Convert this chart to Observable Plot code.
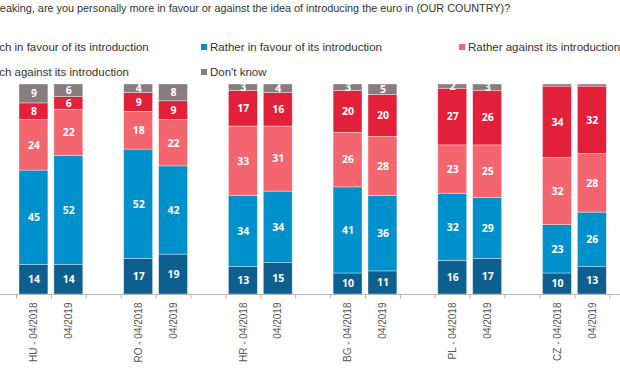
<!DOCTYPE html>
<html><head><meta charset="utf-8">
<script src="https://cdn.jsdelivr.net/npm/d3@7"></script>
<script src="https://cdn.jsdelivr.net/npm/@observablehq/plot@0.6"></script>
<style>
html,body{margin:0;padding:0;background:#fff;overflow:hidden;width:620px;height:380px;}
#wrap{position:relative;width:620px;height:380px;overflow:hidden;font-family:"Liberation Sans",Arial,sans-serif;color:#333;}
#title{position:absolute;left:-61px;top:2px;font-size:10.85px;white-space:nowrap;}
.leg{position:absolute;font-size:11.5px;white-space:nowrap;display:flex;align-items:center;height:14px;}
.sw{width:6px;height:6px;margin-right:3px;flex:none;}
#chart{position:absolute;left:0;top:0;}
</style></head>
<body><div id="wrap">
<div id="title">Generally speaking, are you personally more in favour or against the idea of introducing the euro in (OUR COUNTRY)?</div>
<div id="legend"></div>
<div id="chart"></div>
</div>
<script>
const groups = ["HU","RO","HR","BG","PL","CZ"];
const waves = ["04/2018","04/2019"];
const categories = [
  "Very much in favour of its introduction",
  "Rather in favour of its introduction",
  "Rather against its introduction",
  "Very much against its introduction",
  "Don't know"
];
const colors = ["#0d5f8f","#0090cb","#f4666f","#e3203a","#887c7f"];
// values per bar, order: HU18, HU19, RO18, RO19, HR18, HR19, BG18, BG19, PL18, PL19, CZ18, CZ19
const veryFavour    = [14,14,17,19,13,15,10,11,16,17,10,13];
const ratherFavour  = [45,52,52,42,34,34,41,36,32,29,23,26];
const ratherAgainst = [24,22,18,22,33,31,26,28,23,25,32,28];
const veryAgainst   = [8,6,9,9,17,16,20,20,27,26,34,32];
const dontKnow      = [9,6,4,8,3,4,3,5,2,3,1,1];
const series = [veryFavour, ratherFavour, ratherAgainst, veryAgainst, dontKnow];

// slots: two bars per country plus a blank slot
const slots = [];
const slotLabel = {};
groups.forEach(g => {
  slots.push(g + "|0"); slotLabel[g + "|0"] = g + " - " + waves[0];
  slots.push(g + "|1"); slotLabel[g + "|1"] = waves[1];
  slots.push(g + "|gap"); slotLabel[g + "|gap"] = "";
});
const rows = [];
groups.forEach((g, gi) => {
  waves.forEach((w, wi) => {
    const idx = gi * 2 + wi;
    categories.forEach((c, ci) => {
      rows.push({slot: g + "|" + wi, cat: c, value: series[ci][idx]});
    });
  });
});

// legend
const legend = document.getElementById("legend");
const legPos = [[-52,40],[201,40],[459,40],[-52,65],[201,65]];
categories.forEach((c, i) => {
  const d = document.createElement("div");
  d.className = "leg";
  d.style.left = legPos[i][0] + "px";
  d.style.top = legPos[i][1] + "px";
  d.innerHTML = `<span class="sw" style="background:${colors[i]}"></span><span>${c}</span>`;
  legend.appendChild(d);
});

const step = 34.9;
const x0 = 16;
const plot = Plot.plot({
  width: 620,
  height: 380,
  marginLeft: 0,
  marginRight: 0,
  marginTop: 84,
  marginBottom: 86,
  style: {background: "transparent", overflow: "visible"},
  x: {domain: slots, range: [x0, x0 + step * slots.length], padding: 0, round: false, axis: null},
  y: {domain: [0, 100], range: [294, 84], axis: null},
  color: {domain: categories, range: colors},
  marks: [
    Plot.barY(rows, Plot.stackY({x: "slot", y: "value", fill: "cat", order: categories, insetLeft: 3, insetRight: 3, stroke: "#ffffff", strokeOpacity: 0.6, strokeWidth: 0.6})),
    Plot.ruleY([0], {stroke: "#b5b5b5"}),
    Plot.ruleX(slots, {x: d => d, dx: -step / 2, y1: 0, y2: -2.2, stroke: "#b5b5b5"}),
    Plot.text(rows, Plot.stackY({x: "slot", y: "value", z: "cat", order: categories, text: d => d.value >= 2 ? String(d.value) : "", fill: "white", fontWeight: "bold", fontSize: 10.5, fontFamily: "Open Sans, sans-serif"})),
    Plot.text(slots, {x: d => d, y: 0, dy: 8, text: d => slotLabel[d], rotate: -90, textAnchor: "end", fill: "#555", fontSize: 10, fontFamily: "Liberation Sans, Arial, sans-serif"})
  ]
});
document.getElementById("chart").appendChild(plot);
</script>
</body></html>
